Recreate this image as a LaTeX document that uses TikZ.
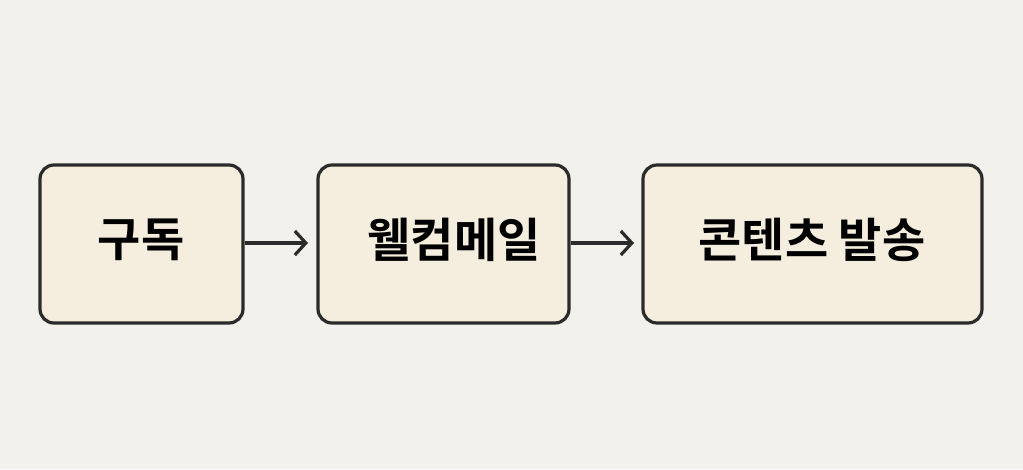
\documentclass[tikz,border=0pt]{standalone}
\usepackage{fontspec}
\newfontfamily\kr{Noto Sans CJK KR Bold}
\usetikzlibrary{arrows.meta}
\definecolor{bg}{HTML}{F3F1EC}
\definecolor{boxfill}{HTML}{F5EDDE}
\definecolor{ink}{HTML}{2B2B2B}
\begin{document}
\begin{tikzpicture}[x=1pt,y=-1pt,
  stagebox/.style={draw=ink,line width=3.2pt,fill=boxfill,rounded corners=14pt,inner sep=0pt},
  lbl/.style={font=\kr\fontsize{47}{52}\selectfont,text=black},
  conn/.style={draw=ink,line width=3.2pt,-{Straight Barb[length=11pt,width=24pt,line width=3.2pt]}}]
\fill[bg] (0,0) rectangle (1023,469);
\useasboundingbox (0,0) rectangle (1023,469);
\node[stagebox,minimum width=203pt,minimum height=158pt] (b1) at (141.5,244) {};
\node[stagebox,minimum width=251pt,minimum height=158pt] (b2) at (443.5,244) {};
\node[stagebox,minimum width=339pt,minimum height=158pt] (b3) at (812.5,244) {};
\node[lbl] (t1) at (141,240) {구독};
\node[lbl] (t2) at (454,240) {웰컴메일};
\node[lbl] (t3) at (812,240) {콘텐츠 발송};
\coordinate (a1e) at (308,243);
\coordinate (a2e) at (634,243);
\draw[conn] (b1.east |- a1e) -- (a1e);
\draw[conn] (b2.east |- a2e) -- (a2e);
\end{tikzpicture}
\end{document}
